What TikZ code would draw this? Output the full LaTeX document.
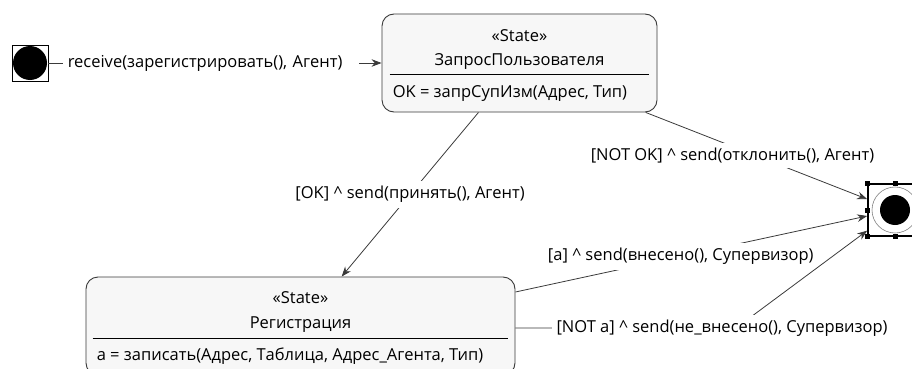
\documentclass[tikz,border=0pt]{standalone}
\usepackage{fontspec}
\setmainfont{Open Sans}
\usetikzlibrary{arrows.meta,positioning}
\definecolor{boxfill}{HTML}{F7F7F7}
\definecolor{rand}{HTML}{3A3A3A}
\tikzset{
    %Define standard arrow tip
    >={Stealth[length=10pt,width=7.5pt]},
    font=\fontsize{16.5}{19}\selectfont,
    %Define style for state boxes
    statebox/.style={
           rectangle,
           rounded corners=12pt,
           draw=rand, line width=0.9pt,
           fill=boxfill,
           minimum height=98pt},
    stereo/.style={inner sep=0pt},
    attr/.style={anchor=west, inner sep=0pt},
    trenn/.style={draw=black, line width=0.8pt},
    % Define transition style
    trans/.style={
           ->,
           draw=rand,
           line width=0.8pt},
    lbl/.style={fill=white, inner sep=5pt},
    % pseudo states
    startbox/.style={rectangle,draw=black,line width=0.8pt,minimum size=36pt,inner sep=0pt},
    endbox/.style={rectangle,draw=black,line width=1.6pt,minimum width=54pt,minimum height=52pt,inner sep=0pt}
}

\begin{document}
\begin{tikzpicture}[x=1pt,y=-1pt]
  \useasboundingbox (0,0) rectangle (912,369);

  % initial state
  \node[startbox] (init) at (30,63) {};
  \fill (init.center) circle (17pt);

  % state: ЗапросПользователя
  \node[statebox, minimum width=275pt] (req) at (519.5,63) {};
  \node[stereo] (reqst) at ([yshift=-22pt]req.north) {«State»};
  \node[stereo] (reqname) at ([yshift=-48pt]req.north) {ЗапросПользователя};
  \draw[trenn] ([xshift=8pt,yshift=-61pt]req.north west) -- ([xshift=-8pt,yshift=-61pt]req.north east);
  \node[attr] (reqattr) at ([xshift=11pt,yshift=-80pt]req.north west) {OK = запрСупИзм(Адрес, Тип)};

  % state: Регистрация
  \node[statebox, minimum width=429pt] (reg) at (300.5,326) {};
  \node[stereo] (regst) at ([yshift=-21pt]reg.north) {«State»};
  \node[stereo] (regname) at ([yshift=-48pt]reg.north) {Регистрация};
  \draw[trenn] ([xshift=7pt,yshift=-62pt]reg.north west) -- ([xshift=-7pt,yshift=-62pt]reg.north east);
  \node[attr] (regattr) at ([xshift=11pt,yshift=-80pt]reg.north west) {a = записать(Адрес, Таблица, Адрес\_Агента, Тип)};

  % final state (selected)
  \node[endbox] (fin) at (895,210) {};
  \draw[gray, line width=0.6pt] (fin.center) circle (23pt);
  \fill (fin.center) circle (15pt);
  \foreach \a in {north west,north,north east,west,east,south west,south,south east}
    \fill (fin.\a) +(-2.5pt,-2.5pt) rectangle +(2.5pt,2.5pt);

  \coordinate (nab) at (736,328);

  % transitions
  \draw[trans] (init) -- (req)
    node[lbl, pos=0, anchor=west, xshift=14pt, text width=286pt, align=left] {receive(зарегистрировать(), Агент)};
  \draw[trans] (req) -- (reg)
    node[lbl, midway] {[OK] \textasciicircum{} send(принять(), Агент)};
  \draw[trans] (req) -- (fin)
    node[lbl, midway, xshift=-24pt] {[NOT OK] \textasciicircum{} send(отклонить(), Агент)};
  \draw[trans] ([yshift=34pt]reg.east) -- (fin)
    node[lbl, pos=0.47] {[a] \textasciicircum{} send(внесено(), Супервизор)};
  \draw[trans] (reg.east |- nab) -- (nab)
    node[lbl, xshift=-14pt] {[NOT a] \textasciicircum{} send(не\_внесено(), Супервизор)} -- (fin);
\end{tikzpicture}
\end{document}
